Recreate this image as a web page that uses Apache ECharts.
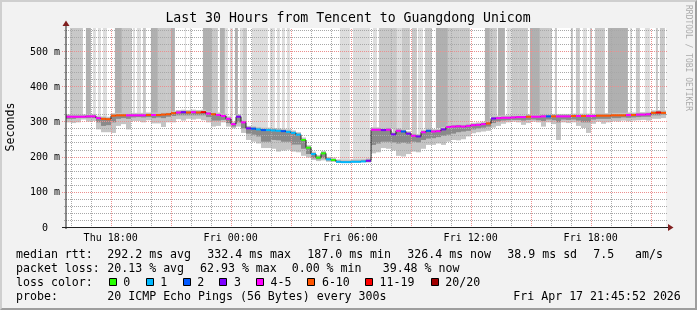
<!DOCTYPE html>
<html><head><meta charset="utf-8">
<script src="https://cdn.jsdelivr.net/npm/echarts@6/dist/echarts.min.js"></script>
<style>
html,body{margin:0;padding:0;background:#f2f2f2}
#wrap{position:relative;width:697px;height:310px;overflow:hidden}
#c{width:697px;height:310px}
#frame{position:absolute;left:0;top:0;width:697px;height:310px;box-sizing:border-box;pointer-events:none;border-style:solid;border-width:2px;border-color:#cfcfcf #9e9e9e #9e9e9e #cfcfcf}
</style></head><body>
<div id="wrap"><div id="c"></div><div id="frame"></div></div>
<script>
// ---------- data ----------
const startHour = 15.7644;   // Thu 15:45:52
const stepHours = 0.25;
const yMax = 568;
const median = [316,316,316,316,317,317, 312,310,309,
 319,320,320,320,320,320,320,321,321,321,322,323,
 326,328,329,328,329,328,329, 325,323,321,318, 310,295,316,300,
 283,282,280,278,278,277,276,275,273,270,265,
 250,228,210,200,212,195,193, 188,187,187,188,188,189,191,
 279,279,278,279, 266,276,274,268,262,260,272,276,274,275, 280,
 287,288,289,288,290, 292,293,295,297, 311,312,313,313,314,
 315,315,316,316,316,317,317,317, 317,317,317,318,318,318,318,318,
 319,319,319,320,320,320,321,321, 322,322,323, 327,328,327];
const lossLevel = [4,4,4,4,4,4, 4,5,5,
 5,5,5,4,4,4,4,5,4,5,5,5,
 5,4,3,5,4,5,6, 4,5,4,4, 4,4,3,4,
 3,2,1,2,1,1,1,2,1,1,1,
 0,0,1,0,0,1,0, 1,1,1,1,1,1,3,
 4,4,3,4, 3,4,2,3,4,3,4,2,4,4, 3,
 4,4,4,4,4, 4,4,4,5, 3,4,4,4,4,
 4,4,5,4,4,4,2,5, 4,4,4,5,4,5,4,4,
 5,5,5,5,5,5,4,5, 4,4,4, 5,6,5];
const smokeLow = [300,298,300,308,302,304, 280,272,272,
 270,290,295,280,304,304,300,306,297,297,287,300,
 300,309,305,310,308,310,306, 300,288,290,300, 288,283,288,270,
 250,245,240,227,227,225,217,220,222,217,215,
 205,200,193,190,192,188,188, 185,185,185,186,186,187,186,
 212,215,227,225, 220,205,203,210,217,215,225,236,236,240, 236,
 245,250,249,252,260, 269,272,274,276, 285,290,296,300,302,
 300,293,298,302,300,288,300,295, 250,300,298,300,290,284,270,296,
 302,296,300,303,302,305,303,305, 306,307,305, 310,310,312];
const smokeMid = [310,310,312,313,312,312, 300,290,292,
 300,310,312,310,314,315,314,315,312,314,312,316,
 318,320,320,320,320,320,320, 315,305,305,307, 298,288,300,283,
 268,265,260,245,245,250,249,245,245,237,237,
 225,210,198,195,198,192,190, 186,186,186,187,187,188,188,
 236,240,245,245, 243,240,242,240,245,243,250,254,255,258, 262,
 265,268,272,274,276, 280,283,285,288, 298,302,305,306,307,
 307,305,307,308,306,304,308,306, 300,308,307,308,305,300,300,308,
 310,310,310,312,312,314,313,314, 315,316,316, 320,320,322];
// [startHour, endHour, shade level 1..3]
const lossBars = [
 [15.96,16.61,2],[16.76,17.01,3],[17.11,17.26,1],[17.36,17.51,1],[17.61,17.81,1],
 [18.21,18.56,3],[18.56,19.06,2],[19.11,19.21,1],[19.31,19.51,1],[19.61,19.76,2],
 [20.01,20.36,3],[20.36,20.81,2],[20.81,21.01,2],[21.01,21.21,3],[21.71,21.76,1],
 [21.96,22.01,1],[22.61,23.06,3],[23.06,23.36,2],[23.46,23.71,3],[23.71,23.86,1],
 [23.96,24.11,1],[24.21,24.36,3],[24.46,24.61,1],[24.61,24.81,2],[25.06,25.86,1],
 [25.96,26.21,1],[26.31,26.46,1],[26.56,26.71,1],[26.81,26.96,1],[29.46,29.96,1],
 [30.11,30.81,1],[30.81,30.96,1],[31.11,31.31,1],[31.41,32.11,2],[32.11,32.31,2],
 [32.31,32.56,1],[32.56,32.96,2],[33.06,33.31,2],[33.36,33.61,1],[33.71,34.06,2],
 [34.26,34.86,3],[34.86,35.46,2],[35.46,35.96,2],[36.71,36.96,3],[36.96,37.31,2],
 [37.36,37.71,3],[37.81,38.06,1],[38.06,38.41,2],[38.41,38.86,2],[38.96,39.46,3],
 [39.46,39.96,2],[39.96,40.06,2],[40.21,40.31,2],[41.01,41.11,2],[41.26,41.46,2],
 [41.61,41.81,1],[41.96,42.06,2],[42.21,42.71,2],[42.86,43.86,3],[43.96,44.06,1],
 [44.26,44.46,2],[44.71,44.96,1],[45.26,45.36,2],[45.46,45.71,2]];
const lossColors = ['#26ff00','#00b8ff','#0059ff','#7e00ff','#ff00ff','#ff5500','#ff0000','#a10000'];
const lossLabels = ['0','1','2','3','4-5','6-10','11-19','20/20'];
const xLabelHours = [18,24,30,36,42];
const xLabelText = ['Thu 18:00','Fri 00:00','Fri 06:00','Fri 12:00','Fri 18:00'];
const xMinorHours = [16,17,19,20,22,23,25,26,28,29,31,32,34,35,37,38,40,41,43,44];
const xMajorHours = [18,21,24,27,30,33,36,39,42,45];
const yMajor = [100,200,300,400,500];
const yMinor = [20,40,60,80,120,140,160,180,220,240,260,280,320,340,360,380,420,440,460,480,520,540,560];

// ---------- drawing ----------
const MONO = "'DejaVu Sans Mono', monospace";
const shadeColors = [null,'#dddddd','#c8c8c8','#b0b0b0'];
const endHour = startHour + 30;
const times = median.map((_, i) => startHour + i * stepHours);

function medianAt(h){
  let i = Math.floor((h - startHour) / stepHours);
  i = Math.max(0, Math.min(median.length - 1, i));
  return median[i];
}

function renderBar(params, api){
  const h0 = api.value(0), h1 = api.value(1), lvl = api.value(2);
  const m = medianAt((h0 + h1) / 2);
  const p0 = api.coord([h0, yMax]);
  const p1 = api.coord([h1, m + 4]);
  return {type:'rect', shape:{x:p0[0], y:p0[1], width:Math.max(1,p1[0]-p0[0]), height:p1[1]-p0[1]},
    style:{fill:shadeColors[lvl]}};
}
function renderSmoke(params, api){
  const t = api.value(0), low = api.value(1), mid = api.value(2), m = api.value(3);
  const x0 = api.coord([t, 0])[0], x1 = api.coord([t + stepHours, 0])[0];
  const yl = api.coord([t, low])[1], ym = api.coord([t, mid])[1];
  const yt = api.coord([t, m + 7])[1], yt2 = api.coord([t, m + 3])[1];
  return {type:'group', children:[
    {type:'rect', shape:{x:x0, y:yt, width:x1-x0, height:yl-yt}, style:{fill:'#c4c4c4'}},
    {type:'rect', shape:{x:x0, y:yt2, width:x1-x0, height:ym-yt2}, style:{fill:'#8a8a8a'}}
  ]};
}
function renderVGrid(params, api){
  const h = api.value(0), major = api.value(1);
  const x = Math.round(api.coord([h, 0])[0]) + 0.5;
  const yb = api.coord([h, 0])[1], yt = api.coord([h, yMax])[1];
  return {type:'line', shape:{x1:x, y1:yb, x2:x, y2:yt},
    style:{stroke: major ? '#eb8f8f' : '#a8a8a8', lineWidth:1, lineDash:[1,1]}};
}
function renderHGrid(params, api){
  const v = api.value(0), major = api.value(1);
  const y = Math.round(api.coord([startHour, v])[1]) - 0.5;
  const xl = api.coord([startHour, v])[0], xr = api.coord([endHour, v])[0];
  return {type:'line', shape:{x1:xl - (major ? 4 : 2), y1:y, x2:xr + 2, y2:y},
    style:{stroke: major ? '#eb8f8f' : '#a8a8a8', lineWidth:1, lineDash:[1,1]}};
}
function renderMedian(params, api){
  const t = api.value(0), m = api.value(1), lvl = api.value(2), prev = api.value(3);
  const a = api.coord([t, prev]), b = api.coord([t, m]), c = api.coord([t + stepHours, m]);
  return {type:'group', children:[
    {type:'line', shape:{x1:a[0], y1:a[1], x2:b[0], y2:b[1]}, style:{stroke:'#222222', lineWidth:1}},
    {type:'line', shape:{x1:b[0], y1:b[1], x2:c[0], y2:c[1]}, style:{stroke:lossColors[lvl], lineWidth:2}}
  ]};
}
function renderAxes(params, api){
  const o = api.coord([startHour, 0]);
  const r = api.coord([endHour, 0]);
  const t = api.coord([startHour, yMax]);
  const y0 = Math.round(o[1]) - 0.5;
  const x0 = Math.round(o[0]);
  return {type:'group', children:[
    {type:'line', shape:{x1:o[0]-4, y1:y0, x2:r[0]+3, y2:y0}, style:{stroke:'#1f1f1f', lineWidth:1}},
    {type:'line', shape:{x1:x0, y1:o[1]+1, x2:x0, y2:t[1]-3}, style:{stroke:'#1f1f1f', lineWidth:1}},
    {type:'polygon', shape:{points:[[r[0]+2, y0-3.5],[r[0]+7.5, y0],[r[0]+2, y0+3.5]]}, style:{fill:'#801f1f'}},
    {type:'polygon', shape:{points:[[x0-3.5, t[1]-2],[x0, t[1]-7.5],[x0+3.5, t[1]-2]]}, style:{fill:'#801f1f'}}
  ]};
}

const vgrid = xMinorHours.map(h => [h, 0]).concat(xMajorHours.map(h => [h, 1]));
const hgrid = yMinor.map(v => [v, 0]).concat(yMajor.map(v => [v, 1]));

// ---------- legend / texts ----------
function txt(x, y, s, opt){
  opt = opt || {};
  const st = {text:s, font:(opt.size || 11.6) + 'px ' + MONO, fill:opt.fill || '#000',
    align:opt.align || 'left', textAlign:opt.align || 'left', verticalAlign:'middle', textVerticalAlign:'middle'};
  const el = {type:'text', x:x, y:y, style:st, silent:true};
  if (opt.rotation) el.rotation = opt.rotation;
  return el;
}
const graphics = [];
graphics.push(txt(348, 19, 'Last 30 Hours from Tencent to Guangdong Unicom', {size:13.2, align:'center'}));
graphics.push(txt(10.5, 127, 'Seconds', {rotation:Math.PI/2, align:'center'}));
graphics.push(txt(688, 5, 'RRDTOOL / TOBI OETIKER', {size:8, fill:'#ababab', rotation:-Math.PI/2}));
const L1 = [[16,'median rtt:'],[107.3,'292.2 ms avg'],[207.3,'332.4 ms max'],[307.3,'187.0 ms min'],
            [407.3,'326.4 ms now'],[507.3,'38.9 ms sd'],[593.3,'7.5'],[635,'am/s']];
const L2 = [[16,'packet loss:'],[107.3,'20.13 % avg'],[200,'62.93 % max'],[291.7,'0.00 % min'],[382.7,'39.48 % now']];
const L4 = [[16,'probe:'],[107.3,'20 ICMP Echo Pings (56 Bytes) every 300s'],[513.3,'Fri Apr 17 21:45:52 2026']];
L1.forEach(p => graphics.push(txt(p[0], 254.5, p[1])));
L2.forEach(p => graphics.push(txt(p[0], 268.5, p[1])));
graphics.push(txt(16, 282.5, 'loss color:'));
const boxX = [108.7,145.7,182.7,219.3,256,307.3,365,430.7];
lossLabels.forEach((lab, k) => {
  graphics.push({type:'rect', shape:{x:Math.round(boxX[k])+0.5, y:278.5, width:7, height:7},
    style:{fill:lossColors[k], stroke:'#000', lineWidth:1}, silent:true});
  graphics.push(txt(boxX[k] + 14.6, 282.5, lab));
});
L4.forEach(p => graphics.push(txt(p[0], 296.5, p[1])));

const chart = echarts.init(document.getElementById('c'), null, {renderer:'canvas'});
chart.setOption({
  animation:false,
  backgroundColor:'#f2f2f2',
  grid:{left:66, right:31, top:28, bottom:82, show:true, backgroundColor:'#ffffff', borderWidth:0},
  xAxis:{type:'value', min:startHour, max:endHour,
    axisLine:{show:false}, axisTick:{show:false}, splitLine:{show:false},
    axisLabel:{customValues:xLabelHours, margin:5, color:'#000', fontSize:10, fontFamily:MONO,
      formatter: v => { const k = xLabelHours.indexOf(Math.round(v)); return k >= 0 ? xLabelText[k] : ''; }}},
  yAxis:{type:'value', min:0, max:yMax, interval:100,
    axisLine:{show:false}, axisTick:{show:false}, splitLine:{show:false},
    axisLabel:{margin:6, color:'#000', fontSize:10, fontFamily:MONO, showMaxLabel:false,
      formatter: v => (v % 100 === 0 && v <= 500) ? (v === 0 ? '0  ' : v + ' m') : ''}},
  graphic:graphics,
  series:[
    {type:'custom', name:'loss', renderItem:renderBar, data:lossBars, encode:{x:[0,1], y:2}, clip:true, z:1, silent:true},
    {type:'custom', name:'smoke', renderItem:renderSmoke,
      data:times.map((t,i) => [t, smokeLow[i], smokeMid[i], median[i]]), encode:{x:0, y:1}, clip:true, z:2, silent:true},
    {type:'custom', name:'vgrid', renderItem:renderVGrid, data:vgrid, encode:{x:0}, z:3, silent:true},
    {type:'custom', name:'hgrid', renderItem:renderHGrid, data:hgrid, encode:{y:0}, z:3, silent:true},
    {type:'custom', name:'median', renderItem:renderMedian,
      data:times.map((t,i) => [t, median[i], lossLevel[i], i > 0 ? median[i-1] : median[i]]), encode:{x:0, y:1}, clip:true, z:4, silent:true},
    {type:'custom', name:'axes', renderItem:renderAxes, data:[[startHour, 0]], encode:{x:0, y:1}, clip:false, z:5, silent:true}
  ]
});
</script>
</body></html>
